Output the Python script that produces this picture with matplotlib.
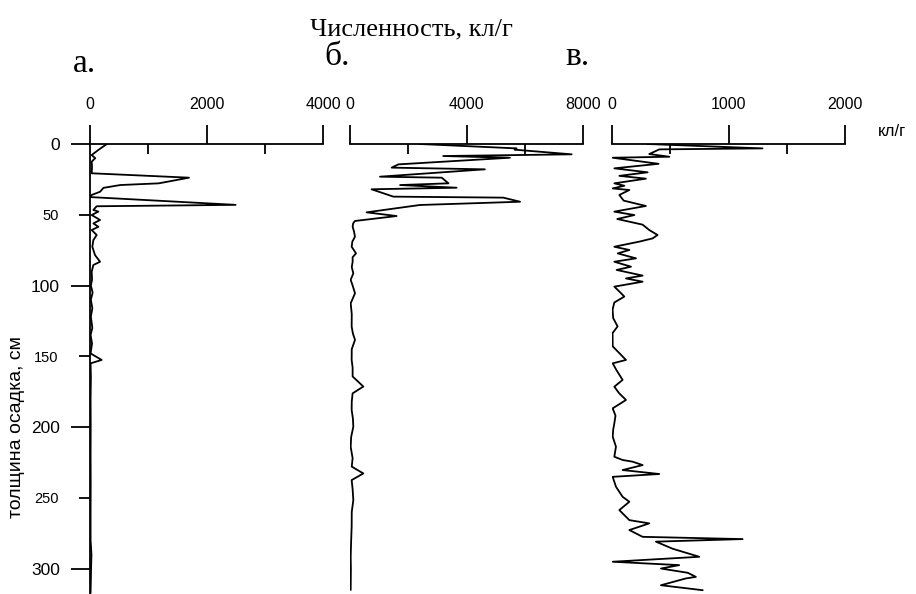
import matplotlib
matplotlib.use('Agg')
import matplotlib.pyplot as plt

# а. — глубина (см) и численность (кл/г)
depth_a = [0, 4, 7.8, 10, 12.5, 16, 20.7, 23.8, 27.8, 29, 31, 33.7, 36, 37.5, 43, 44,
           46.6, 47.8, 50.2, 53.7, 56.1, 58.5, 60.8, 64.3, 67.9, 72.6, 78.5, 83.2, 85.5,
           90.2, 96, 100, 105, 110, 116, 122, 130, 135, 141, 148, 152.6, 155, 165, 180,
           200, 220, 240, 260, 280, 290, 297, 317]
count_a = [290, 150, 29, 90, 29, 35, 29, 1700, 1180, 520, 230, 175, 30, 0, 2500, 115,
           58, 144, 29, 173, 58, 144, 29, 115, 58, 40, 86, 173, 58,
           29, 35, 15, 45, 15, 40, 15, 40, 10, 35, 10, 200, 10, 15, 10,
           12, 10, 12, 10, 10, 25, 20, 10]

# б.
depth_b = [0, 3.1, 4.0, 7.3, 8.5, 9.7, 14.4, 16.7, 17.9, 23.1, 23.8, 27.8, 29.0, 30.9,
           32, 37.2, 37.9, 40.8, 43.1, 48.3, 50.9, 54.4, 56, 58.4, 62, 65.5, 69, 72.6,
           77.3, 80, 83.2, 87, 91.4, 96, 100, 105.5, 112.6, 120, 129, 134, 138.4, 145,
           152.6, 158, 164.3, 171.4, 176.2, 182, 188, 194, 199.8, 207, 214, 222, 228,
           232.8, 237.5, 244, 251.7, 260, 270.5, 280, 291.7, 300, 315]
count_b = [2400, 5720, 5650, 7610, 3200, 5490, 1660, 1430, 4630, 1030, 3150, 3380, 1720, 3660,
           740, 1490, 5260, 5840, 2400, 570, 1600, 170, 110, 90, 140, 170, 80, 57,
           206, 90, 91, 60, 114, 23, 90, 172, 23, 60, 57, 100, 172, 60,
           57, 90, 90, 458, 90, 60, 57, 100, 114, 40, 23, 90, 60,
           458, 57, 90, 114, 60, 57, 40, 23, 30, 23]

# в.
depth_c = [0, 3.1, 3.8, 7.1, 9, 9.7, 14, 17.2, 20, 22.5, 24.5, 27.8, 29.5, 31.4, 32.5,
           36, 40, 43.8, 47.8, 50.2, 53, 57, 60.8, 64.3, 66.7, 69, 72.6, 74.9, 77.3,
           80.8, 83.2, 86.7, 89, 93, 95, 97.3, 100.8, 104, 107.8, 112, 117, 123, 128.9,
           133.6, 143, 152.6, 155, 160, 166.7, 171.5, 176, 180.9, 186.8, 192, 197.4,
           202, 206.8, 213.9, 221, 223.3, 224.5, 226.9, 230.4, 233.2, 235.2, 242.2,
           249.3, 252.8, 258.7, 265.8, 268.1, 272.8, 277.6, 279.2, 281, 286, 291.7,
           295.2, 297.6, 300, 303, 305.9, 307, 311.8, 315.3]
count_c = [306, 1292, 406, 320, 492, 5, 400, 20, 306, 63, 291, 20, 106, 5, 149,
           63, 100, 291, 20, 192, 45, 263, 320, 391, 349, 234, 20, 149, 49,
           206, 20, 163, 40, 263, 120, 263, 20, 60, 106, 20, 5, 10, 48,
           5, 6, 120, 6, 40, 91, 20, 60, 120, 6, 30, 20,
           10, 6, 34, 20, 91, 177, 263, 91, 406, 6, 34,
           91, 149, 63, 149, 320, 149, 263, 1121, 377, 520, 749,
           6, 577, 420, 650, 720, 634, 420, 777]

panels = [
    (depth_a, count_a, 4000, [0, 2000, 4000], [1000, 3000], 90),
    (depth_b, count_b, 8000, [0, 4000, 8000], [2000, 6000], 350),
    (depth_c, count_c, 2000, [0, 1000, 2000], [500, 1500], 612),
]
panel_letters = ['а.', 'б.', 'в.']
letter_pos = [(73, 72), (324, 65), (565, 65)]

W, H = 916, 594
fig = plt.figure(figsize=(W / 100, H / 100), dpi=100)
sans = 'Liberation Sans'
serif = 'Liberation Serif'

for i, (depth, count, xmax, major, minor, x0) in enumerate(panels):
    ax = fig.add_axes([x0 / W, 0, 233 / W, (H - 144) / H])
    ax.plot(count, depth, color='black', lw=1.3)
    ax.set_xlim(0, xmax)
    ax.set_ylim(318, 0)
    ax.set_facecolor('none')
    for s in ['right', 'bottom']:
        ax.spines[s].set_visible(False)
    ax.spines['top'].set_linewidth(1.3)
    ax.spines['left'].set_linewidth(1.3)
    ax.xaxis.tick_top()
    ax.set_xticks(major)
    ax.set_xticklabels([str(v) for v in major], fontsize=11.5, family=sans)
    ax.set_xticks(minor, minor=True)
    ax.tick_params(axis='x', which='major', direction='out', length=13.7, width=1.3, pad=9)
    ax.tick_params(axis='x', which='minor', direction='in', length=7, width=1.3)
    if i == 0:
        ax.set_yticks([0, 100, 200, 300])
        ax.set_yticklabels(['0', '100', '200', '300'], fontsize=12.5, family=sans)
        ax.set_yticks([50, 150, 250], minor=True)
        ax.set_yticklabels(['50', '150', '250'], minor=True, fontsize=10.5, family=sans)
        ax.tick_params(axis='y', which='major', direction='out', length=13.7, width=1.3, pad=8)
        ax.tick_params(axis='y', which='minor', direction='out', length=7.7, width=1.3, pad=15)
    else:
        ax.spines['left'].set_visible(False)
        ax.set_yticks([])
    lx, ly = letter_pos[i]
    fig.text(lx / W, 1 - ly / H, panel_letters[i], family=serif, fontsize=24,
             ha='left', va='baseline')

fig.text(411 / W, 1 - 35 / H, 'Численность, кл/г', family=serif, fontsize=19,
         ha='center', va='baseline')
fig.text(878 / W, 1 - 132 / H, 'кл/г', family=sans, fontsize=12, ha='left', va='center')
fig.text(17 / W, 1 - 427 / H, 'толщина осадка, см', family=sans, fontsize=14,
         rotation=90, ha='center', va='center')

fig.savefig('out.png', dpi=100)
